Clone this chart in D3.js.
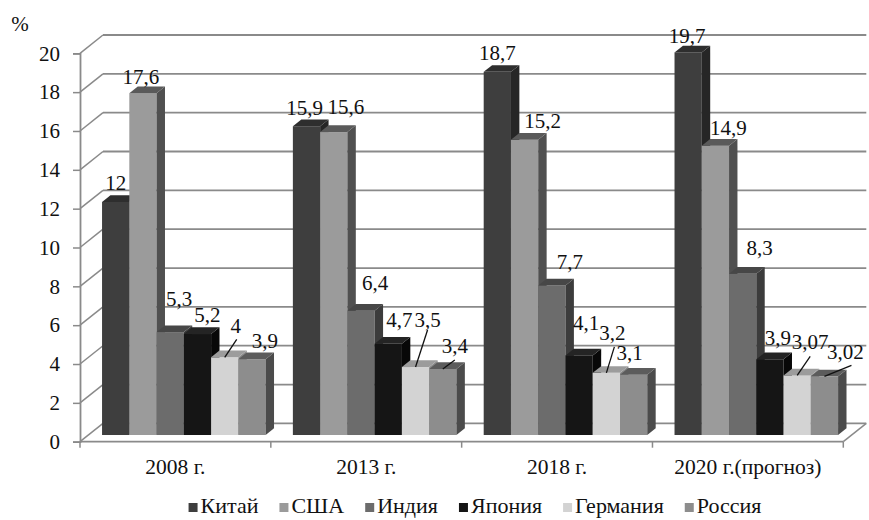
<!DOCTYPE html>
<html>
<head>
<meta charset="utf-8">
<script src="https://cdn.jsdelivr.net/npm/d3@7"></script>
<style>
  html, body { margin: 0; padding: 0; background: #fff; }
  svg { display: block; }
  svg text { font-family: "Liberation Serif", "Tinos", "Times New Roman", "DejaVu Serif", "Noto Serif", serif; }
</style>
</head>
<body>
<svg id="chart" width="869" height="520"></svg>
<script>
// Share of world GDP by country, %
const categories = ["2008 г.", "2013 г.", "2018 г.", "2020 г.(прогноз)"];
const seriesNames = ["Китай", "США", "Индия", "Япония", "Германия", "Россия"];
const china   = [12, 15.9, 18.7, 19.7];
const usa     = [17.6, 15.6, 15.2, 14.9];
const india   = [5.3, 6.4, 7.7, 8.3];
const japan   = [5.2, 4.7, 4.1, 3.9];
const germany = [4, 3.5, 3.2, 3.07];
const russia  = [3.9, 3.4, 3.1, 3.02];
const yTicks  = [0, 2, 4, 6, 8, 10, 12, 14, 16, 18, 20];

const seriesValues = [china, usa, india, japan, germany, russia];

// face shades: front, right side, top
const shades = [
  { front: "#3e3e3e", side: "#262626", top: "#2e2e2e" },
  { front: "#9b9b9b", side: "#505050", top: "#5a5a5a" },
  { front: "#6c6c6c", side: "#3c3c3c", top: "#474747" },
  { front: "#151515", side: "#080808", top: "#242424" },
  { front: "#d3d3d3", side: "#8a8a8a", top: "#9c9c9c" },
  { front: "#8d8d8d", side: "#4b4b4b", top: "#5c5c5c" }
];

// label nudges [dx, dy] from the default spot above each bar
const labelNudge = [
  [[0, 0], [-2, 0], [0, 0], [-1, 2]],
  [[-2, 2], [12, -6], [18, 0], [13, 1]],
  [[9, -14], [14, -9], [18, -5], [17, -7]],
  [[10, 0], [11, -5], [7, -14], [8, -3]],
  [[11, -13], [12, -28], [6, -21], [13, -15]],
  [[13, 0], [12, -4], [-4, -3], [21, -6]]
];
// pointer line end, relative to the label centre (null = no pointer)
const leaderEnd = [
  [null, null, null, null],
  [null, null, null, null],
  [null, null, null, null],
  [null, null, null, null],
  [[1, 14], [0, 10], [2, 14], [0, 15]],
  [null, [0, 14], null, [6, 14]]
];

const svg = d3.select("#chart");
const fontSize = 21;
const serifStack = "'Liberation Serif', 'Tinos', 'Times New Roman', 'DejaVu Serif', 'Noto Serif', serif";

// front plane of the plot box
const left = 80, right = 843.3;
const y = d3.scaleLinear().domain([0, 20]).range([441.7, 53.3]);
const x = d3.scaleBand().domain(categories).range([left, right]).paddingInner(0).paddingOuter(0);
const xs = d3.scaleBand().domain(seriesNames).range([0, x.bandwidth()]).paddingInner(0).paddingOuter(0.5);

// oblique depth vector for the full box, and where the bars sit in it
const depth = { dx: 23, dy: -18.3 };
const tFront = 0.366, tBack = 0.732;
const bf = { dx: depth.dx * tFront, dy: depth.dy * tFront };
const bd = { dx: depth.dx * (tBack - tFront), dy: depth.dy * (tBack - tFront) };

const gridColor = "#8a8a8a";

// back wall gridlines and side-wall diagonals
const grid = svg.append("g");
yTicks.forEach(v => {
  grid.append("line")
    .attr("x1", left + depth.dx).attr("x2", right + depth.dx)
    .attr("y1", y(v) + depth.dy).attr("y2", y(v) + depth.dy)
    .attr("stroke", gridColor).attr("stroke-width", 1.8);
  grid.append("line")
    .attr("x1", left).attr("x2", left + depth.dx)
    .attr("y1", y(v)).attr("y2", y(v) + depth.dy)
    .attr("stroke", gridColor).attr("stroke-width", 1.5);
});

// floor: front edge and right edge
grid.append("line")
  .attr("x1", left).attr("x2", right).attr("y1", y(0)).attr("y2", y(0))
  .attr("stroke", gridColor).attr("stroke-width", 1.8);
grid.append("line")
  .attr("x1", right).attr("x2", right + depth.dx).attr("y1", y(0)).attr("y2", y(0) + depth.dy)
  .attr("stroke", gridColor).attr("stroke-width", 1.5);

// y axis
const yAxis = d3.axisLeft(y).tickValues(yTicks).tickSize(7).tickPadding(6).tickFormat(d3.format("d"));
const ya = svg.append("g").attr("transform", `translate(${left},0)`).call(yAxis);
ya.attr("font-family", serifStack).attr("font-size", fontSize);
ya.select(".domain").attr("stroke", gridColor).attr("stroke-width", 1.8);
ya.selectAll(".tick line").attr("stroke", gridColor).attr("stroke-width", 1.5);
ya.selectAll(".tick text").attr("fill", "#111").attr("x", -20);

// x axis: category ticks below the floor's front edge
const xa = svg.append("g");
[left].concat(categories.map(c => x(c) + x.bandwidth())).forEach(px => {
  xa.append("line").attr("x1", px).attr("x2", px).attr("y1", y(0)).attr("y2", y(0) + 6)
    .attr("stroke", gridColor).attr("stroke-width", 1.5);
});
categories.forEach(c => {
  xa.append("text")
    .attr("x", x(c) + x.bandwidth() / 2).attr("y", 474)
    .attr("text-anchor", "middle").attr("font-size", 21.5).attr("fill", "#111")
    .text(c);
});

// "%" unit label
svg.append("text").attr("x", 20).attr("y", 24).attr("dy", "0.35em")
  .attr("text-anchor", "middle").attr("font-size", fontSize).attr("fill", "#111").text("%");

// bars, left to right so each bar covers its left neighbour's side face
const bars = svg.append("g");
const fmt = v => String(v).replace(".", ",");
const labelItems = [];
categories.forEach((c, ci) => {
  seriesNames.forEach((s, si) => {
    const v = seriesValues[si][ci];
    const x0 = x(c) + xs(s) + bf.dx;
    const x1 = x0 + xs.bandwidth();
    const yt = y(v) + bf.dy;
    const yb = y(0) + bf.dy;
    const sh = shades[si];
    bars.append("rect").attr("x", x0).attr("y", yt).attr("width", x1 - x0).attr("height", yb - yt)
      .attr("fill", sh.front);
    bars.append("path").attr("fill", sh.side)
      .attr("d", `M${x1},${yt}L${x1 + bd.dx},${yt + bd.dy}L${x1 + bd.dx},${yb + bd.dy}L${x1},${yb}Z`);
    bars.append("path").attr("fill", sh.top)
      .attr("d", `M${x0},${yt}L${x0 + bd.dx},${yt + bd.dy}L${x1 + bd.dx},${yt + bd.dy}L${x1},${yt}Z`);
    const cx = (x0 + x1) / 2;
    const n = labelNudge[si][ci];
    labelItems.push({ v, cx, yt, lx: cx + n[0], ly: yt - 19 + n[1], leader: leaderEnd[si][ci] });
  });
});

// value labels with pointer lines where they were moved aside
const labels = svg.append("g");
labelItems.forEach(d => {
  if (d.leader) {
    labels.append("line")
      .attr("x1", d.cx).attr("y1", d.yt)
      .attr("x2", d.lx + d.leader[0]).attr("y2", d.ly + d.leader[1])
      .attr("stroke", "#111").attr("stroke-width", 1.3);
  }
  labels.append("text")
    .attr("x", d.lx).attr("y", d.ly).attr("dy", "0.35em")
    .attr("text-anchor", "middle").attr("font-size", fontSize).attr("fill", "#111")
    .text(fmt(d.v));
});

// legend row
const legend = svg.append("g");
const sq = 9, pad = 3, gap = 21, legendFont = 22;
let cursor = 0;
seriesNames.forEach((s, i) => {
  const g = legend.append("g");
  g.append("rect").attr("x", 0).attr("y", -sq - 1).attr("width", sq).attr("height", sq).attr("fill", shades[i].front);
  const t = g.append("text").attr("x", sq + pad).attr("y", 0).attr("font-size", legendFont).attr("fill", "#111").text(s);
  const w = sq + pad + t.node().getComputedTextLength();
  g.attr("transform", `translate(${cursor},0)`);
  cursor += w + gap;
});
const legendWidth = cursor - gap;
legend.attr("transform", `translate(${475 - legendWidth / 2},513)`);
</script>
</body>
</html>
